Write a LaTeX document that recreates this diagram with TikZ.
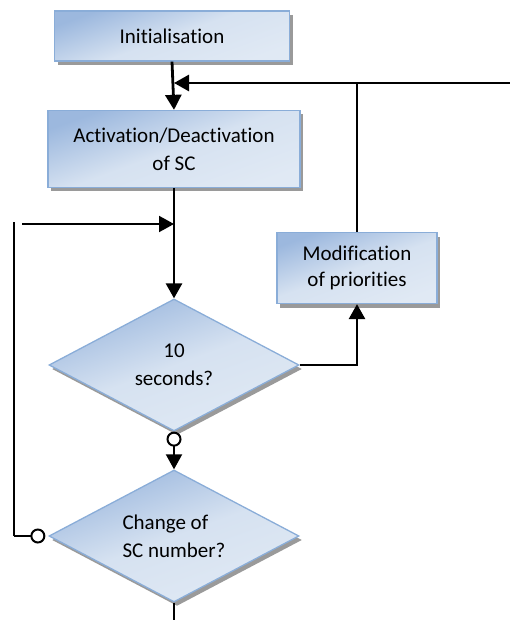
\documentclass[tikz,border=0pt]{standalone}
\usepackage{fontspec}
\setmainfont[Ligatures={NoCommon,NoRequired,NoContextual}]{Carlito}
\usetikzlibrary{shapes.geometric,arrows.meta,shadows}
\definecolor{boxdark}{HTML}{9CB8DE}
\definecolor{boxlight}{HTML}{E0E9F4}
\definecolor{boxborder}{HTML}{8AADD8}
\definecolor{shadowgray}{HTML}{9A9A9A}
\tikzset{
  flowshape/.style={draw=boxborder, line width=1.3pt, align=center,
    font=\fontsize{21}{28}\selectfont, text=black,
    top color=boxdark, bottom color=boxlight, middle color=boxlight!85!boxdark, shading angle=20,
    drop shadow={shadow xshift=3pt, shadow yshift=-4pt, fill=shadowgray, opacity=1}},
  rectbox/.style={flowshape, rectangle, inner sep=0pt},
  decision/.style={flowshape, diamond, aspect=1.9, inner sep=0pt},
  thickline/.style={line width=2.8pt, black},
  thinline/.style={line width=2pt, black},
  tri/.tip={Triangle[length=15pt,width=16pt]},
  circtip/.tip={Circle[open,length=15pt,width=15pt,line width=2pt,fill=white]}
}
\begin{document}
\begin{tikzpicture}[x=1pt,y=-1pt]
\useasboundingbox (0,0) rectangle (510,620);
\node[rectbox, minimum width=235pt, minimum height=50pt] (init) at (172,36) {Initialisation};
\node[rectbox, minimum width=252pt, minimum height=77pt] (act) at (174,149) {Activation/Deactivation\\of SC};
\node[rectbox, minimum width=160pt, minimum height=71pt, font=\fontsize{21}{26}\selectfont] (mod) at (357,268) {Modification\\of priorities};
\node[decision, minimum width=250pt, minimum height=132pt] (d1) at (174,365) {10\\seconds?};
\node[decision, minimum width=250pt, minimum height=132pt, align=left] (d2) at (174,536) {Change of\\SC number?};

\coordinate (rightend) at (510,83);
\coordinate (merge1) at (174,83);
\coordinate (modtop) at (357,83);
\coordinate (merge2) at (174,224);
\coordinate (loopstart) at (22,224);
\coordinate (loopleft) at (14,536);
\coordinate (looptop) at (14,222);
\coordinate (d1right) at (357,365);
\coordinate (bottomend) at (174,620);

\draw[thickline, -{tri}] (init.south) -- (act.north);
\draw[thickline, -{tri}] (rightend) -- (merge1);
\draw[thickline] (mod.north) -- (modtop);
\draw[thickline, -{tri}] (act.south) -- (d1.north);
\draw[thinline, -{tri}] (loopstart) -- (merge2);
\draw[thickline, -{tri}] (d1.east) -- (d1right) -- (mod.south);
\draw[thinline, {circtip}-{tri}] (d1.south) -- (d2.north);
\draw[thickline] (loopleft) -- (looptop);
\draw[thickline, {circtip}-] ([xshift=-3pt]d2.west) -- (loopleft);
\draw[thickline] (d2.south) -- (bottomend);
\end{tikzpicture}
\end{document}
